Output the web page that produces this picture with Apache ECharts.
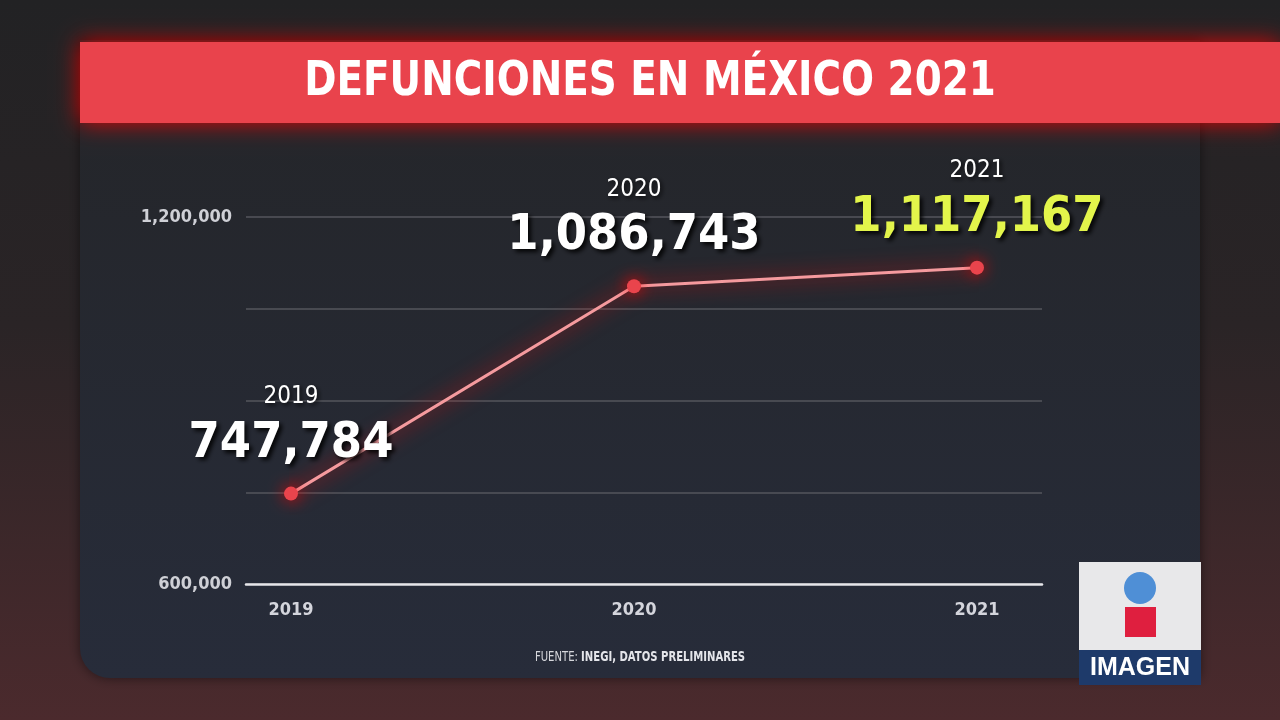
<!DOCTYPE html>
<html>
<head>
<meta charset="utf-8">
<title>Defunciones en México 2021</title>
<script src="https://cdn.jsdelivr.net/npm/echarts@6/dist/echarts.min.js"></script>
<style>
  html, body { margin: 0; padding: 0; background: #242426; }
  #chart { width: 1280px; height: 720px; }
</style>
</head>
<body>
<div id="chart"></div>
<script>
// datos de la gráfica
const years = ["2019", "2020", "2021"];
const deaths = [747784, 1086743, 1117167];
const yTickLabels = { 600000: "600,000", 1200000: "1,200,000" };

const FONT = "'DejaVu Sans Condensed', 'Liberation Sans Narrow', 'Roboto', sans-serif";
const fmt = (v) => v.toLocaleString("en-US");

const chart = echarts.init(document.getElementById("chart"));

chart.setOption({
    animation: false,
    grid: [
        // rejilla de fondo (líneas guía + etiquetas del eje Y)
        { left: 246, right: 238, top: 217, bottom: 136 },
        // rejilla de datos
        { left: 291, right: 303, top: 217, bottom: 136 },
    ],
    xAxis: [
        {
            gridIndex: 0,
            type: "value",
            min: 0,
            max: 1,
            axisLine: { show: true, onZero: false, lineStyle: { color: "#e6e6ea", width: 2.5 } },
            axisTick: { show: false },
            axisLabel: { show: false },
            splitLine: { show: false },
        },
        {
            gridIndex: 1,
            type: "category",
            data: years,
            boundaryGap: false,
            axisLine: { show: false },
            axisTick: { show: false },
            axisLabel: {
                margin: 17,
                fontFamily: FONT,
                fontSize: 18,
                fontWeight: "bold",
                color: "#d4d5dc",
            },
        },
    ],
    yAxis: [
        {
            gridIndex: 0,
            type: "value",
            min: 600000,
            max: 1200000,
            interval: 150000,
            axisLine: { show: false },
            axisTick: { show: false },
            axisLabel: {
                margin: 14,
                fontFamily: FONT,
                fontSize: 18,
                fontWeight: "bold",
                color: "#cfd0d6",
                formatter: (v) => yTickLabels[v] || "",
            },
            splitLine: { lineStyle: { color: "#55565d", width: 1.5 } },
        },
        {
            gridIndex: 1,
            type: "value",
            min: 600000,
            max: 1200000,
            show: false,
            splitLine: { show: false },
        },
    ],
    series: [
        {
            type: "line",
            xAxisIndex: 1,
            yAxisIndex: 1,
            data: deaths.map((v, i) => {
                const item = { value: v };
                if (i === deaths.length - 1) {
                    item.label = { rich: { v: { color: "#e3f54b" } } };
                }
                return item;
            }),
            symbol: "circle",
            symbolSize: 14,
            itemStyle: {
                color: "#e9444c",
                shadowColor: "rgba(255, 0, 0, 0.95)",
                shadowBlur: 16,
            },
            lineStyle: {
                color: "#f59a9e",
                width: 3,
                shadowColor: "rgba(255, 10, 10, 1)",
                shadowBlur: 20,
            },
            label: {
                show: true,
                position: "top",
                distance: 16,
                align: "center",
                formatter: (p) => `{y|${years[p.dataIndex]}}\n{v|${fmt(p.value)}}`,
                rich: {
                    y: {
                        fontFamily: FONT,
                        fontSize: 24,
                        color: "#ffffff",
                        lineHeight: 40,
                        align: "center",
                        textShadowColor: "rgba(0,0,0,0.8)",
                        textShadowBlur: 4,
                        textShadowOffsetX: 2,
                        textShadowOffsetY: 2,
                    },
                    v: {
                        fontFamily: FONT,
                        fontSize: 50,
                        fontWeight: "bold",
                        color: "#ffffff",
                        lineHeight: 54,
                        align: "center",
                        textShadowColor: "rgba(0,0,0,0.85)",
                        textShadowBlur: 4,
                        textShadowOffsetX: 3,
                        textShadowOffsetY: 3,
                    },
                },
            },
        },
    ],
    graphic: [
        // fondo general
        {
            type: "rect",
            z: -100,
            shape: { x: 0, y: 0, width: 1280, height: 720 },
            style: {
                fill: {
                    type: "linear", x: 0, y: 0, x2: 0, y2: 1,
                    colorStops: [
                        { offset: 0, color: "#222224" },
                        { offset: 0.45, color: "#2a2426" },
                        { offset: 1, color: "#4b2a2d" },
                    ],
                },
            },
        },
        // panel
        {
            type: "rect",
            z: -90,
            shape: { x: 80, y: 40, width: 1120, height: 638, r: [0, 0, 0, 30] },
            style: {
                fill: {
                    type: "linear", x: 0, y: 0, x2: 0, y2: 1,
                    colorStops: [
                        { offset: 0, color: "#242528" },
                        { offset: 1, color: "#272c3a" },
                    ],
                },
                shadowColor: "rgba(0,0,0,0.5)",
                shadowBlur: 12,
            },
        },
        // barra del título
        {
            type: "rect",
            z: -80,
            shape: { x: 80, y: 42, width: 1200, height: 81 },
            style: {
                fill: "#e9434c",
                shadowColor: "rgba(255, 0, 0, 0.85)",
                shadowBlur: 22,
            },
        },
        {
            type: "text",
            z: 10,
            x: 650,
            y: 83,
            scaleX: 0.9,
            style: {
                text: "DEFUNCIONES EN MÉXICO 2021",
                fontFamily: FONT,
                fontSize: 48,
                fontWeight: "bold",
                fill: "#ffffff",
                align: "center",
                verticalAlign: "middle",
            },
        },
        // fuente
        {
            type: "text",
            z: 10,
            x: 640,
            y: 657,
            scaleX: 0.8,
            style: {
                text: "{a|FUENTE: }{b|INEGI, DATOS PRELIMINARES}",
                align: "center",
                verticalAlign: "middle",
                rich: {
                    a: { fontFamily: FONT, fontSize: 14, fill: "#d6d7dc", color: "#d6d7dc" },
                    b: { fontFamily: FONT, fontSize: 14, fontWeight: "bold", fill: "#e4e5ea", color: "#e4e5ea" },
                },
            },
        },
        // logo IMAGEN
        {
            type: "group",
            z: 20,
            children: [
                {
                    type: "rect",
                    shape: { x: 1079, y: 562, width: 122, height: 88 },
                    style: { fill: "#e8e8ea" },
                },
                {
                    type: "circle",
                    shape: { cx: 1140, cy: 588, r: 16 },
                    style: { fill: "#4f8fd6" },
                },
                {
                    type: "rect",
                    shape: { x: 1125, y: 607, width: 31, height: 30 },
                    style: { fill: "#df1f3f" },
                },
                {
                    type: "rect",
                    shape: { x: 1079, y: 650, width: 122, height: 35 },
                    style: { fill: "#1e3a6a" },
                },
                {
                    type: "text",
                    x: 1140,
                    y: 668,
                    style: {
                        text: "IMAGEN",
                        fontFamily: "'Liberation Sans', 'DejaVu Sans', sans-serif",
                        fontSize: 25,
                        fontWeight: "bold",
                        fill: "#ffffff",
                        align: "center",
                        verticalAlign: "middle",
                    },
                },
            ],
        },
    ],
});

window.addEventListener("resize", () => chart.resize());
</script>
</body>
</html>
